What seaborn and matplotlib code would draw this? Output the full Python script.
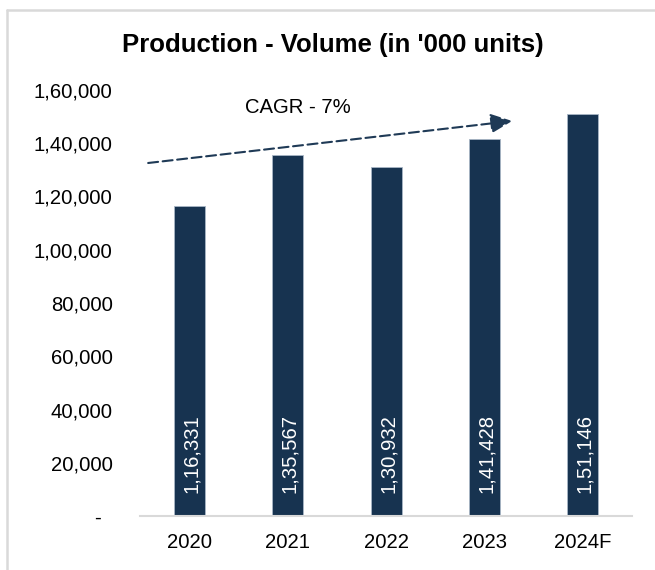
import matplotlib
matplotlib.use("Agg")
import matplotlib.pyplot as plt
import seaborn as sns
import pandas as pd
from matplotlib.lines import Line2D

years = ["2020", "2021", "2022", "2023", "2024F"]
volume = [116331, 135567, 130932, 141428, 151146]
y_ticks = [0, 20000, 40000, 60000, 80000, 100000, 120000, 140000, 160000]
title = "Production - Volume (in '000 units)"
cagr_label = "CAGR - 7%"

def indian(n):
    n = int(round(n))
    if n == 0:
        return "-  "
    s = str(n)
    if len(s) <= 3:
        return s
    last3 = s[-3:]
    rest = s[:-3]
    parts = []
    while len(rest) > 2:
        parts.insert(0, rest[-2:])
        rest = rest[:-2]
    if rest:
        parts.insert(0, rest)
    return ",".join(parts) + "," + last3

sns.set_theme(style="white")
plt.rcParams["font.family"] = ["Liberation Sans", "DejaVu Sans"]

navy = "#173350"
df = pd.DataFrame({"year": years, "volume": volume})

fig = plt.figure(figsize=(6.55, 5.70), dpi=100)
ax = fig.add_axes([140.3 / 655, 1 - 516 / 570, 491.5 / 655, 426 / 570])

sns.barplot(data=df, x="year", y="volume", color=navy, width=0.315,
            saturation=1, edgecolor="#A9B7C6", linewidth=0.6, ax=ax)

ax.set_xlim(-0.5, 4.5)
ax.set_ylim(0, 160000)
ax.set_yticks(y_ticks)
ax.set_yticklabels([indian(v) for v in y_ticks])
ax.set_xlabel("")
ax.set_ylabel("")
ax.tick_params(axis="y", length=0, pad=20, labelsize=14.6, colors="black")
ax.tick_params(axis="x", length=0, pad=12, labelsize=14.6, colors="black")
for s in ["top", "right", "left"]:
    ax.spines[s].set_visible(False)
ax.spines["bottom"].set_color("#D9D9D9")
ax.spines["bottom"].set_linewidth(1.5)
ax.grid(False)

for i, v in enumerate(volume):
    ax.text(i + 0.02, 8600, indian(v), rotation=90, ha="center", va="bottom",
            color="white", fontsize=14.6)

ax.annotate("", xy=(3.283, 148357), xytext=(-0.42, 132582),
            annotation_clip=False,
            arrowprops=dict(arrowstyle="-|>,head_length=1.1,head_width=0.5",
                            color="#1F3A56", lw=1.5, linestyle=(0, (4.8, 2.2)),
                            shrinkA=0, shrinkB=0))
ax.text(1.105, 153615, cagr_label, ha="center", va="center", fontsize=14.6,
        color="black")

fig.text(333 / 655, 1 - 45 / 570, title, ha="center", va="center",
         fontsize=18.5, fontweight="bold", color="black")

# light frame around chart
fig.add_artist(Line2D([7 / 655, 7 / 655], [0, 1 - 10 / 570],
                      transform=fig.transFigure, color="#D9D9D9", lw=1.8))
fig.add_artist(Line2D([7 / 655, 1], [1 - 10 / 570, 1 - 10 / 570],
                      transform=fig.transFigure, color="#D9D9D9", lw=1.8))

fig.savefig("out.png", dpi=100, facecolor="white")
